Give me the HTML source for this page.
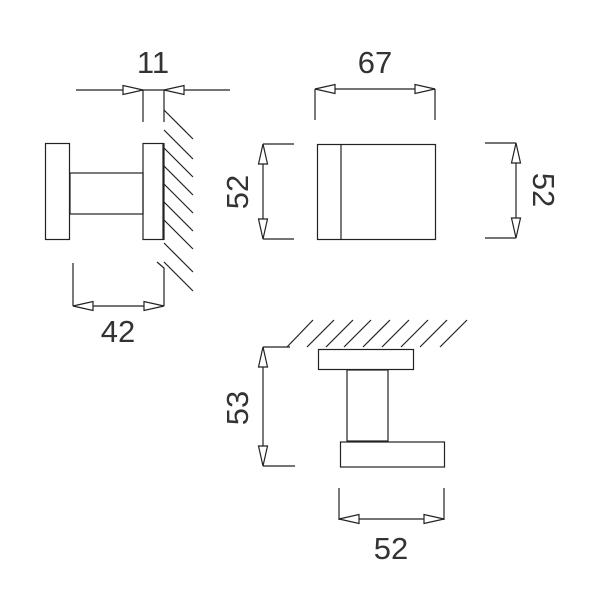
<!DOCTYPE html>
<html><head><style>body{margin:0;background:#fff}</style></head><body>
<svg width="600" height="600" xmlns="http://www.w3.org/2000/svg" font-family="Liberation Sans, sans-serif" font-size="31" fill="none" stroke="#222" stroke-width="1.2">
<defs>
<g id="a"><polygon points="0,0 -20,-4.5 -20,4.5" fill="#fff"/></g>
</defs>
<line x1="76" y1="90" x2="230" y2="90"/>
<line x1="143" y1="90" x2="143" y2="122"/>
<line x1="164" y1="90" x2="164" y2="122"/>
<use href="#a" transform="translate(143,90)"/>
<use href="#a" transform="translate(164,90) rotate(180)"/>
<text x="153" y="73" text-anchor="middle" fill="#333" stroke="none">11</text>
<rect x="45.5" y="143.5" width="24" height="96"/>
<rect x="70" y="173" width="73" height="41"/>
<rect x="143" y="143.5" width="20" height="96"/>
<g>
<line x1="164" y1="110" x2="193" y2="139"/>
<line x1="164" y1="130" x2="193" y2="159"/>
<line x1="164" y1="148" x2="193" y2="177"/>
<line x1="164" y1="166" x2="193" y2="195"/>
<line x1="164" y1="184" x2="193" y2="213"/>
<line x1="164" y1="202" x2="193" y2="231"/>
<line x1="164" y1="220" x2="193" y2="249"/>
<line x1="164" y1="243" x2="193" y2="272"/>
<line x1="164" y1="262" x2="193" y2="291"/>
</g>
<line x1="164" y1="143" x2="164" y2="240"/>
<line x1="73" y1="263" x2="73" y2="306"/>
<polyline points="164,306 164,268 157,262"/>
<line x1="73" y1="306" x2="164" y2="306"/>
<use href="#a" transform="translate(73,306) rotate(180)"/>
<use href="#a" transform="translate(164,306)"/>
<text x="118" y="342" text-anchor="middle" fill="#333" stroke="none">42</text>
<line x1="315" y1="89" x2="435" y2="89"/>
<line x1="315" y1="89" x2="315" y2="120"/>
<line x1="435" y1="89" x2="435" y2="120"/>
<use href="#a" transform="translate(315,89) rotate(180)"/>
<use href="#a" transform="translate(435,89)"/>
<text x="375" y="73" text-anchor="middle" fill="#333" stroke="none">67</text>
<rect x="317.5" y="144.5" width="118" height="95"/>
<line x1="341" y1="144" x2="341" y2="240"/>
<line x1="263" y1="144" x2="263" y2="239"/>
<line x1="263" y1="144" x2="294" y2="144"/>
<line x1="263" y1="239" x2="294" y2="239"/>
<use href="#a" transform="translate(263,144) rotate(-90)"/>
<use href="#a" transform="translate(263,239) rotate(90)"/>
<text transform="translate(248,192) rotate(-90)" text-anchor="middle" fill="#333" stroke="none">52</text>
<line x1="516" y1="143" x2="516" y2="238"/>
<line x1="485" y1="143" x2="516" y2="143"/>
<line x1="485" y1="238" x2="516" y2="238"/>
<use href="#a" transform="translate(516,143) rotate(-90)"/>
<use href="#a" transform="translate(516,238) rotate(90)"/>
<text transform="translate(533,190) rotate(90)" text-anchor="middle" fill="#333" stroke="none">52</text>
<g>
<line x1="287" y1="347" x2="313" y2="320"/>
<line x1="307" y1="347" x2="334" y2="320"/>
<line x1="326" y1="347" x2="353" y2="320"/>
<line x1="344" y1="347" x2="371" y2="320"/>
<line x1="363" y1="347" x2="390" y2="320"/>
<line x1="382" y1="347" x2="409" y2="320"/>
<line x1="401" y1="347" x2="428" y2="320"/>
<line x1="420" y1="347" x2="447" y2="320"/>
<line x1="440" y1="347" x2="467" y2="320"/>
</g>
<rect x="318.5" y="349.5" width="95" height="20"/>
<rect x="347" y="370" width="41" height="71"/>
<rect x="340.5" y="442" width="104" height="25"/>
<line x1="263" y1="347" x2="263" y2="466"/>
<line x1="263" y1="347" x2="290" y2="347"/>
<line x1="263" y1="466" x2="295" y2="466"/>
<use href="#a" transform="translate(263,347) rotate(-90)"/>
<use href="#a" transform="translate(263,466) rotate(90)"/>
<text transform="translate(248,408) rotate(-90)" text-anchor="middle" fill="#333" stroke="none">53</text>
<line x1="339" y1="488" x2="339" y2="520"/>
<line x1="444" y1="488" x2="444" y2="520"/>
<line x1="339" y1="519" x2="444" y2="519"/>
<use href="#a" transform="translate(339,519) rotate(180)"/>
<use href="#a" transform="translate(444,519)"/>
<text x="391" y="559" text-anchor="middle" fill="#333" stroke="none">52</text>
</svg>
</body></html>
